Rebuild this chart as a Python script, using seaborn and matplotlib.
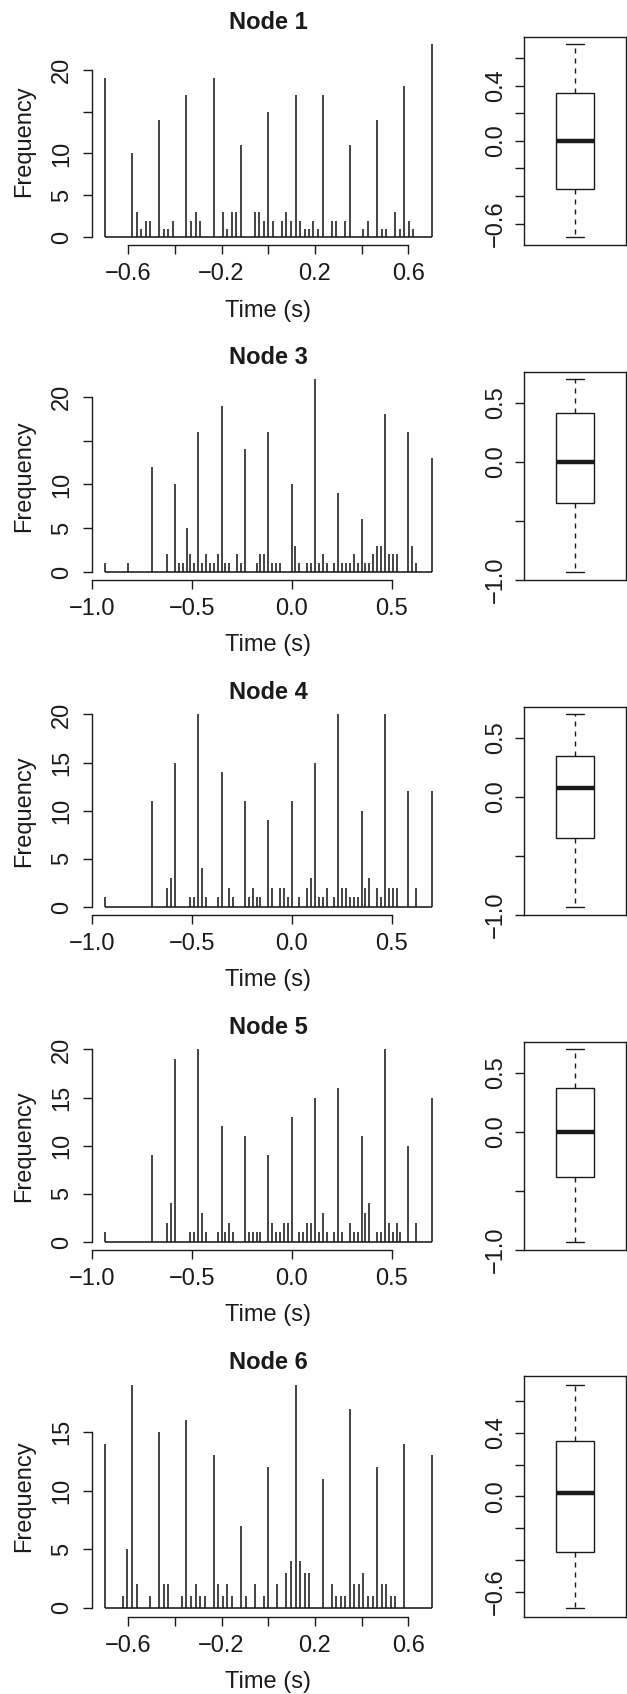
import numpy as np
import pandas as pd
import matplotlib
matplotlib.use("Agg")
import matplotlib.pyplot as plt
import seaborn as sns

# ---------------- data ----------------
node_names = ["Node 1", "Node 3", "Node 4", "Node 5", "Node 6"]

node1_time = [-0.700, -0.583, -0.564, -0.544, -0.525, -0.506, -0.467, -0.447, -0.428, -0.408,
              -0.350, -0.331, -0.311, -0.292, -0.233, -0.194, -0.175, -0.156, -0.136, -0.117,
              -0.058, -0.039, -0.019, 0.000, 0.019, 0.058, 0.078, 0.097, 0.117, 0.136,
              0.156, 0.175, 0.194, 0.214, 0.233, 0.272, 0.292, 0.331, 0.350, 0.408,
              0.428, 0.467, 0.486, 0.506, 0.544, 0.564, 0.583, 0.603, 0.622, 0.700]
node1_freq = [19, 10, 3, 1, 2, 2, 14, 1, 1, 2,
              17, 2, 3, 2, 19, 3, 1, 3, 3, 11,
              3, 3, 2, 15, 2, 2, 3, 2, 17, 2,
              1, 1, 2, 1, 17, 2, 2, 2, 11, 1,
              2, 14, 1, 1, 3, 1, 18, 2, 1, 23]

node3_time = [-0.933, -0.817, -0.700, -0.622, -0.583, -0.564, -0.544, -0.525, -0.506, -0.486,
              -0.467, -0.447, -0.428, -0.408, -0.389, -0.369, -0.350, -0.331, -0.311, -0.272,
              -0.253, -0.233, -0.175, -0.156, -0.136, -0.117, -0.097, -0.078, -0.058, 0.000,
              0.019, 0.039, 0.078, 0.097, 0.117, 0.136, 0.156, 0.175, 0.214, 0.233,
              0.253, 0.272, 0.292, 0.311, 0.331, 0.350, 0.369, 0.389, 0.408, 0.428,
              0.447, 0.467, 0.486, 0.506, 0.525, 0.583, 0.603, 0.622, 0.700]
node3_freq = [1, 1, 12, 2, 10, 1, 1, 5, 2, 1,
              16, 1, 2, 1, 1, 2, 19, 1, 1, 2,
              1, 14, 1, 2, 2, 16, 1, 1, 1, 10,
              3, 1, 1, 1, 22, 1, 2, 1, 1, 9,
              1, 1, 1, 2, 1, 6, 1, 1, 2, 3,
              3, 18, 2, 2, 2, 16, 3, 1, 13]

node4_time = [-0.933, -0.700, -0.622, -0.603, -0.583, -0.506, -0.486, -0.467, -0.447, -0.428,
              -0.369, -0.350, -0.311, -0.292, -0.233, -0.214, -0.194, -0.175, -0.156, -0.117,
              -0.097, -0.058, -0.039, -0.019, 0.000, 0.039, 0.078, 0.097, 0.117, 0.136,
              0.156, 0.175, 0.214, 0.233, 0.253, 0.272, 0.292, 0.311, 0.331, 0.350,
              0.369, 0.389, 0.428, 0.447, 0.467, 0.486, 0.506, 0.525, 0.583, 0.622, 0.700]
node4_freq = [1, 11, 2, 3, 15, 1, 1, 20, 4, 1,
              1, 14, 2, 1, 11, 1, 2, 1, 1, 9,
              2, 2, 2, 1, 11, 1, 2, 3, 15, 1,
              1, 2, 1, 20, 2, 2, 1, 1, 1, 10,
              2, 3, 2, 1, 20, 2, 2, 2, 12, 2, 12]

node5_time = [-0.933, -0.700, -0.622, -0.603, -0.583, -0.506, -0.486, -0.467, -0.447, -0.428,
              -0.369, -0.350, -0.331, -0.311, -0.292, -0.233, -0.214, -0.194, -0.175, -0.156,
              -0.117, -0.097, -0.078, -0.058, -0.039, -0.019, 0.000, 0.039, 0.058, 0.078,
              0.097, 0.117, 0.136, 0.156, 0.175, 0.214, 0.233, 0.253, 0.292, 0.311,
              0.331, 0.350, 0.369, 0.389, 0.428, 0.447, 0.467, 0.486, 0.506, 0.525,
              0.544, 0.583, 0.622, 0.700]
node5_freq = [1, 9, 2, 4, 19, 1, 1, 20, 3, 1,
              1, 12, 1, 2, 1, 11, 1, 1, 1, 1,
              9, 2, 1, 1, 2, 2, 13, 1, 1, 2,
              2, 15, 1, 3, 1, 1, 16, 1, 2, 1,
              1, 11, 3, 4, 1, 1, 20, 2, 1, 2,
              1, 10, 2, 15]

node6_time = [-0.700, -0.622, -0.603, -0.583, -0.564, -0.506, -0.467, -0.447, -0.428, -0.369,
              -0.350, -0.331, -0.311, -0.292, -0.272, -0.233, -0.214, -0.194, -0.175, -0.156,
              -0.117, -0.097, -0.058, -0.019, 0.000, 0.039, 0.078, 0.097, 0.117, 0.136,
              0.156, 0.175, 0.233, 0.272, 0.292, 0.311, 0.331, 0.350, 0.369, 0.389,
              0.408, 0.428, 0.447, 0.467, 0.486, 0.506, 0.525, 0.544, 0.583, 0.700]
node6_freq = [14, 1, 5, 19, 2, 1, 15, 2, 2, 1,
              16, 1, 2, 1, 1, 13, 2, 1, 2, 1,
              7, 1, 2, 1, 12, 2, 3, 4, 19, 4,
              3, 3, 11, 2, 1, 1, 1, 17, 2, 2,
              3, 1, 1, 12, 2, 2, 1, 1, 14, 13]

all_times = [node1_time, node3_time, node4_time, node5_time, node6_time]
all_freqs = [node1_freq, node3_freq, node4_freq, node5_freq, node6_freq]

# tick values / labels (R skips labels that would overlap)
xt_short = [-0.6, -0.4, -0.2, 0.0, 0.2, 0.4, 0.6]
xl_short = ["\u22120.6", "", "\u22120.2", "", "0.2", "", "0.6"]
xt_long = [-1.0, -0.5, 0.0, 0.5]
xl_long = ["\u22121.0", "\u22120.5", "0.0", "0.5"]

hist_yticks = [[0, 5, 10, 15, 20], [0, 5, 10, 15, 20], [0, 5, 10, 15, 20],
               [0, 5, 10, 15, 20], [0, 5, 10, 15]]
hist_ylabels = [["0", "5", "10", "", "20"], ["0", "5", "10", "", "20"],
                ["0", "5", "10", "15", "20"], ["0", "5", "10", "15", "20"],
                ["0", "5", "10", "15"]]
hist_xticks = [xt_short, xt_long, xt_long, xt_long, xt_short]
hist_xlabels = [xl_short, xl_long, xl_long, xl_long, xl_short]

bt_short = [-0.6, -0.4, -0.2, 0.0, 0.2, 0.4, 0.6]
bl_short = ["\u22120.6", "", "", "0.0", "", "0.4", ""]
bt_long = [-1.0, -0.5, 0.0, 0.5]
bl_long = ["\u22121.0", "", "0.0", "0.5"]
box_yticks = [bt_short, bt_long, bt_long, bt_long, bt_short]
box_ylabels = [bl_short, bl_long, bl_long, bl_long, bl_short]

# ---------------- style ----------------
sns.set_style("ticks")
plt.rcParams["font.family"] = ["Liberation Sans", "DejaVu Sans"]
plt.rcParams["axes.unicode_minus"] = True

W, H = 627, 1694
fig = plt.figure(figsize=(W / 100, H / 100), dpi=100)
fig.patch.set_facecolor("white")

INK = "#1a1a1a"
FS = 17
PX = 0.72  # points per pixel at dpi 100
TICK_LEN = 9 * PX

# layout in pixels (top, bottom) of each row's plotting region
rows_px = [(36.7, 245.0), (371.8, 579.7), (706.7, 914.7), (1041.7, 1249.7), (1376.3, 1616.6)]
HIST_L, HIST_R = 91.7, 444.7
BOX_L, BOX_R = 524.0, 626.0


def add_px_axes(l, t, r, b):
    return fig.add_axes([l / W, 1 - b / H, (r - l) / W, (b - t) / H])


def r_range(lo, hi):
    d = (hi - lo) * 0.04
    return lo - d, hi + d


for k in range(5):
    top, bot = rows_px[k]
    t = np.asarray(all_times[k], dtype=float)
    f = np.asarray(all_freqs[k], dtype=float)

    # ---- spike histogram ----
    ax = add_px_axes(HIST_L, top, HIST_R, bot)
    ax.set_facecolor("none")
    ax.vlines(t, 0, f, color=INK, lw=1.15)
    ax.hlines(0, t.min(), t.max(), color=INK, lw=1.15)
    ax.set_xlim(*r_range(t.min(), t.max()))
    ax.set_ylim(*r_range(0, f.max()))
    for s in ["top", "right"]:
        ax.spines[s].set_visible(False)
    for s in ["left", "bottom"]:
        ax.spines[s].set_color(INK)
        ax.spines[s].set_linewidth(1.0)
    ax.spines["left"].set_bounds(hist_yticks[k][0], hist_yticks[k][-1])
    ax.spines["bottom"].set_bounds(hist_xticks[k][0], hist_xticks[k][-1])
    ax.tick_params(axis="both", direction="out", length=TICK_LEN, width=1.0,
                   color=INK, labelsize=FS, labelcolor=INK)
    ax.tick_params(axis="x", pad=26 * PX)
    ax.tick_params(axis="y", pad=14.4 * PX)
    ax.set_xticks(hist_xticks[k], hist_xlabels[k], va="baseline")
    ax.set_yticks(hist_yticks[k], hist_ylabels[k], rotation=90,
                  rotation_mode="anchor", ha="center", va="baseline")

    cx = (HIST_L + HIST_R) / 2
    fig.text(cx / W, 1 - (top - 7.5) / H, node_names[k], ha="center", va="baseline",
             fontsize=FS, fontweight="bold", color=INK)
    fig.text(cx / W, 1 - (bot + 71.7) / H, "Time (s)", ha="center", va="baseline",
             fontsize=FS, color=INK)
    fig.text(30 / W, 1 - ((top + bot) / 2) / H, "Frequency", rotation=90,
             rotation_mode="anchor", ha="center", va="baseline", fontsize=FS, color=INK)

    # ---- boxplot of the same times ----
    axb = add_px_axes(BOX_L, top, BOX_R, bot)
    vals = pd.DataFrame({"time": np.repeat(t, f.astype(int))})
    sns.boxplot(data=vals, y="time", ax=axb, width=0.37, color="white",
                linecolor=INK, linewidth=1.0, saturation=1, fliersize=0, whis=1.5,
                medianprops={"linewidth": 3.2},
                whiskerprops={"linestyle": (0, (3.6, 3.6))})
    axb.set_xlim(-0.5, 0.5)
    axb.set_ylim(*r_range(vals["time"].min(), vals["time"].max()))
    axb.set_xticks([])
    axb.set_xlabel("")
    axb.set_ylabel("")
    for s in ["top", "right", "left", "bottom"]:
        axb.spines[s].set_visible(True)
        axb.spines[s].set_color(INK)
        axb.spines[s].set_linewidth(1.0)
    axb.tick_params(axis="y", direction="out", length=TICK_LEN, width=1.0,
                    color=INK, labelsize=FS, labelcolor=INK, pad=13.3 * PX)
    axb.set_yticks(box_yticks[k], box_ylabels[k], rotation=90,
                   rotation_mode="anchor", ha="center", va="baseline")

fig.savefig("out.png", dpi=100, facecolor="white")
